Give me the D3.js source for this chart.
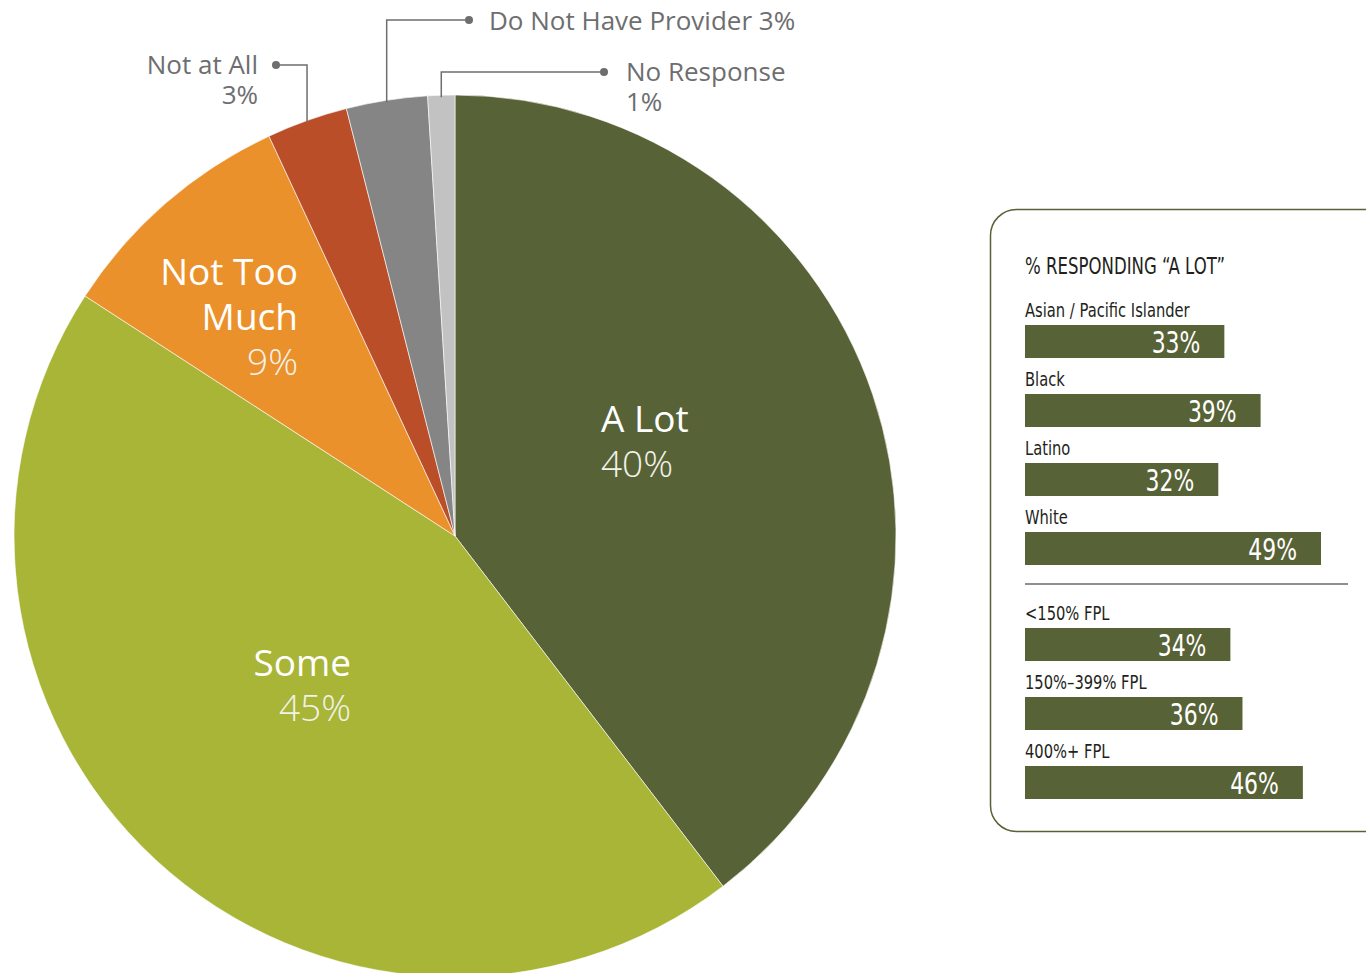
<!DOCTYPE html>
<html>
<head>
<meta charset="utf-8">
<script src="https://cdn.jsdelivr.net/npm/d3@7"></script>
<style>
  html, body { margin: 0; padding: 0; background: #ffffff; }
  svg { display: block; }
</style>
</head>
<body>
<svg id="chart" width="1366" height="973"></svg>
<script>
// Survey answers, shares in percent (published rounding sums to 101)
const sliceLabels = ["A Lot", "Some", "Not Too Much", "Not at All", "Do Not Have Provider", "No Response"];
const sliceValues = [40, 45, 9, 3, 3, 1];
const sliceColors = ["#586237", "#a8b537", "#eb912b", "#b94e28", "#858585", "#c2c2c2"];

// Breakdown of "A Lot" answers by group
const raceGroups = ["Asian / Pacific Islander", "Black", "Latino", "White"];
const raceValues = [33, 39, 32, 49];
const incomeGroups = ["<150% FPL", "150%\u2013399% FPL", "400%+ FPL"];
const incomeValues = [34, 36, 46];

const svg = d3.select("#chart");
const pieFont = "'Open Sans', 'Noto Sans', sans-serif";
const narrowFont = "'DejaVu Sans', sans-serif";
const grey = "#6d6e70";

// Squeeze a text horizontally to give a condensed face
function condense(sel, factor) {
  sel.each(function () {
    const w = this.getComputedTextLength();
    d3.select(this).attr("textLength", w * factor).attr("lengthAdjust", "spacingAndGlyphs");
  });
  return sel;
}

// ---------- Pie ----------
const cx = 455, cy = 536, R = 441;
const pie = d3.pie().sort(null).value(d => d.value);
const arcs = pie(sliceLabels.map((l, i) => ({ label: l, value: sliceValues[i], color: sliceColors[i] })));
const arc = d3.arc().innerRadius(0).outerRadius(R);

const g = svg.append("g").attr("transform", `translate(${cx},${cy})`);
g.selectAll("path.slice")
  .data(arcs)
  .join("path")
  .attr("class", "slice")
  .attr("d", arc)
  .attr("fill", d => d.data.color)
  .attr("stroke", "#ffffff")
  .attr("stroke-width", 0.6);

// Labels drawn inside the large slices
const inside = [
  { i: 0, lines: ["A Lot"], x: 601, y: 432, anchor: "start" },
  { i: 1, lines: ["Some"], x: 351, y: 676, anchor: "end" },
  { i: 2, lines: ["Not Too", "Much"], x: 298, y: 285, anchor: "end" }
];
inside.forEach(o => {
  const t = svg.append("text")
    .attr("x", o.x).attr("y", o.y)
    .attr("text-anchor", o.anchor)
    .attr("font-family", pieFont)
    .attr("fill", "#ffffff");
  o.lines.forEach((ln, k) => {
    t.append("tspan").attr("x", o.x).attr("dy", k === 0 ? 0 : 45)
      .attr("font-size", 37).text(ln);
  });
  t.append("tspan").attr("x", o.x).attr("dy", 45)
    .attr("font-size", 37).attr("font-weight", 300)
    .attr("fill", "#f2f2ea")
    .text(sliceValues[o.i] + "%");
});

// Callouts for the small slices: vertical leader from the arc, then horizontal to a dot
const callouts = [
  { i: 3, hy: 65, dotX: 276, textX: 258, anchor: "end", lines: ["Not at All", "3%"], ty: 74 },
  { i: 4, hy: 20, dotX: 469, textX: 489, anchor: "start", lines: ["Do Not Have Provider 3%"], ty: 30 },
  { i: 5, hy: 72, dotX: 604, textX: 626, anchor: "start", lines: ["No Response", "1%"], ty: 81 }
];
callouts.forEach(c => {
  const a = arcs[c.i];
  const mid = (a.startAngle + a.endAngle) / 2;
  const ax = cx + R * Math.sin(mid);
  const ay = cy - R * Math.cos(mid) + 2;
  svg.append("path")
    .attr("d", `M${ax},${ay}V${c.hy}H${c.dotX}`)
    .attr("fill", "none")
    .attr("stroke", grey)
    .attr("stroke-width", 1.5);
  svg.append("circle").attr("cx", c.dotX).attr("cy", c.hy).attr("r", 4).attr("fill", grey);
  const t = svg.append("text")
    .attr("x", c.textX).attr("y", c.ty)
    .attr("text-anchor", c.anchor)
    .attr("font-family", pieFont)
    .attr("font-size", 26)
    .attr("fill", grey);
  c.lines.forEach((ln, k) => {
    t.append("tspan").attr("x", c.textX).attr("dy", k === 0 ? 0 : 30).text(ln);
  });
});

// ---------- Side panel ----------
svg.append("rect")
  .attr("x", 990.5).attr("y", 209.5)
  .attr("width", 400).attr("height", 622)
  .attr("rx", 26).attr("ry", 26)
  .attr("fill", "#ffffff")
  .attr("stroke", "#586237")
  .attr("stroke-width", 1.5);

svg.append("text")
  .attr("x", 1025).attr("y", 274)
  .attr("font-family", narrowFont)
  .attr("font-size", 23)
  .attr("fill", "#231f20")
  .text("% RESPONDING \u201CA LOT\u201D")
  .call(condense, 0.72);

const x = d3.scaleLinear().domain([0, 49]).range([1025, 1321]);
const barH = 33, pitch = 69;

function drawGroup(names, values, top) {
  names.forEach((n, k) => {
    const y0 = top + k * pitch;
    svg.append("text")
      .attr("x", 1025).attr("y", y0 - 8)
      .attr("font-family", narrowFont)
      .attr("font-size", 20)
      .attr("fill", "#231f20")
      .text(n)
      .call(condense, 0.735);
    svg.append("rect")
      .attr("x", x(0)).attr("y", y0)
      .attr("width", x(values[k]) - x(0)).attr("height", barH)
      .attr("fill", "#586237");
    svg.append("text")
      .attr("x", x(values[k]) - 24).attr("y", y0 + barH - 5)
      .attr("text-anchor", "end")
      .attr("font-family", narrowFont)
      .attr("font-size", 30)
      .attr("fill", "#ffffff")
      .text(values[k] + "%")
      .call(condense, 0.73);
  });
}
drawGroup(raceGroups, raceValues, 325);

svg.append("line")
  .attr("x1", 1025).attr("x2", 1348)
  .attr("y1", 584).attr("y2", 584)
  .attr("stroke", "#231f20").attr("stroke-width", 1.2);

drawGroup(incomeGroups, incomeValues, 628);
</script>
</body>
</html>
